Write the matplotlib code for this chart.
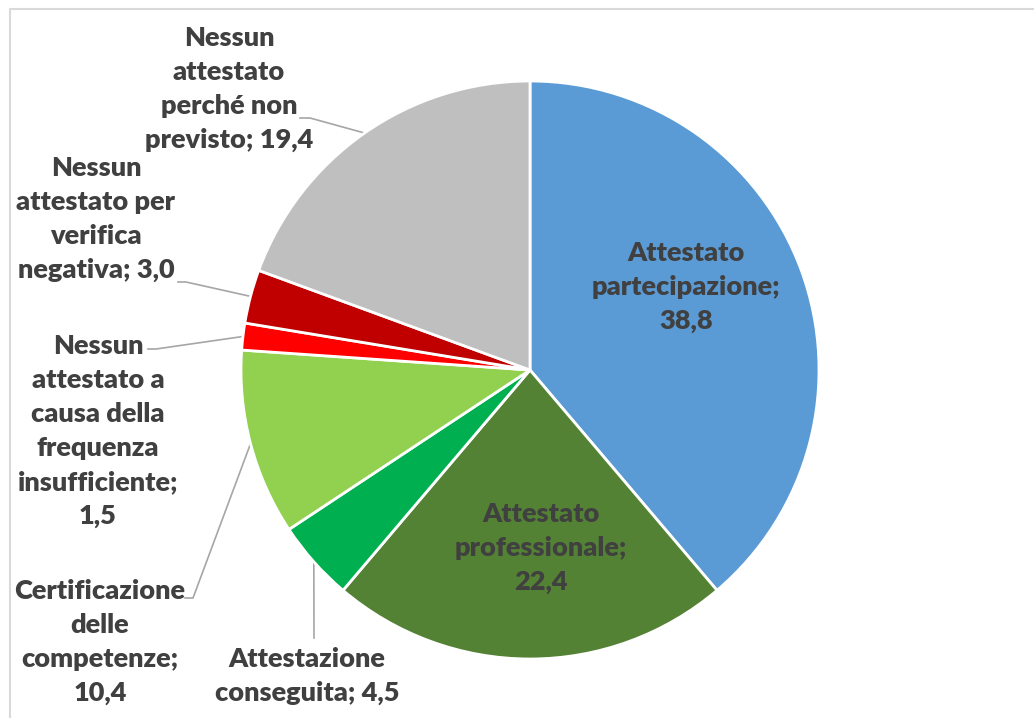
import matplotlib.pyplot as plt
import numpy as np

labels = ['Attestato\npartecipazione;\n38,8',
          'Attestato\nprofessionale;\n22,4',
          'Attestazione\nconseguita; 4,5',
          'Certificazione\ndelle\ncompetenze;\n10,4',
          'Nessun\nattestato a\ncausa della\nfrequenza\ninsufficiente;\n1,5',
          'Nessun\nattestato per\nverifica\nnegativa; 3,0',
          'Nessun\nattestato\nperché non\nprevisto; 19,4']
values = [38.8, 22.4, 4.5, 10.4, 1.5, 3.0, 19.4]
colors = ['#5B9BD5', '#548235', '#00B050', '#92D050', '#FF0000', '#C00000', '#BFBFBF']

W, H = 1034, 718
fig = plt.figure(figsize=(W / 100, H / 100), dpi=100)
ax = fig.add_axes([0, 0, 1, 1])

def py(y):
    return H - y

# chart frame (only top and left edges visible)
ax.plot([10, 10, W], [py(H), py(9), py(9)], color='#D9D9D9', lw=1.5)

cx, cy, r = 530, 370, 289
wedges, _ = ax.pie(values, colors=colors, startangle=90, counterclock=False,
                   center=(cx, py(cy)), radius=r, frame=True,
                   wedgeprops=dict(edgecolor='white', linewidth=2))
ax.set_xlim(0, W)
ax.set_ylim(0, H)
ax.set_aspect('equal')
ax.axis('off')

font = dict(family='Lato', weight='heavy', color='#404040', fontsize=19.5,
            ha='center', va='center', linespacing=1.5)

# label centres (pixel coords) and leader-line elbows
label_pos = [(686, 287), (541, 548), (307, 676), (100, 642), (98, 431), (96, 219), (229, 89)]
elbows = {2: [(314, 638)],
          3: [(193, 598), (185, 598)],
          4: [(156, 349), (148, 349)],
          5: [(186, 282), (178, 282)],
          6: [(310, 118), (300, 118)]}

for i, (w, lab) in enumerate(zip(wedges, labels)):
    x, y = label_pos[i]
    ax.text(x, py(y), lab, **font)
    if i in elbows:
        mid = np.deg2rad((w.theta1 + w.theta2) / 2)
        ex = cx + r * np.cos(mid)
        ey = py(cy) + r * np.sin(mid)
        xs = [ex] + [p[0] for p in elbows[i]]
        ys = [ey] + [py(p[1]) for p in elbows[i]]
        ax.plot(xs, ys, color='#A6A6A6', lw=1.2, zorder=0)

fig.savefig('out.png', dpi=100, facecolor='white')
